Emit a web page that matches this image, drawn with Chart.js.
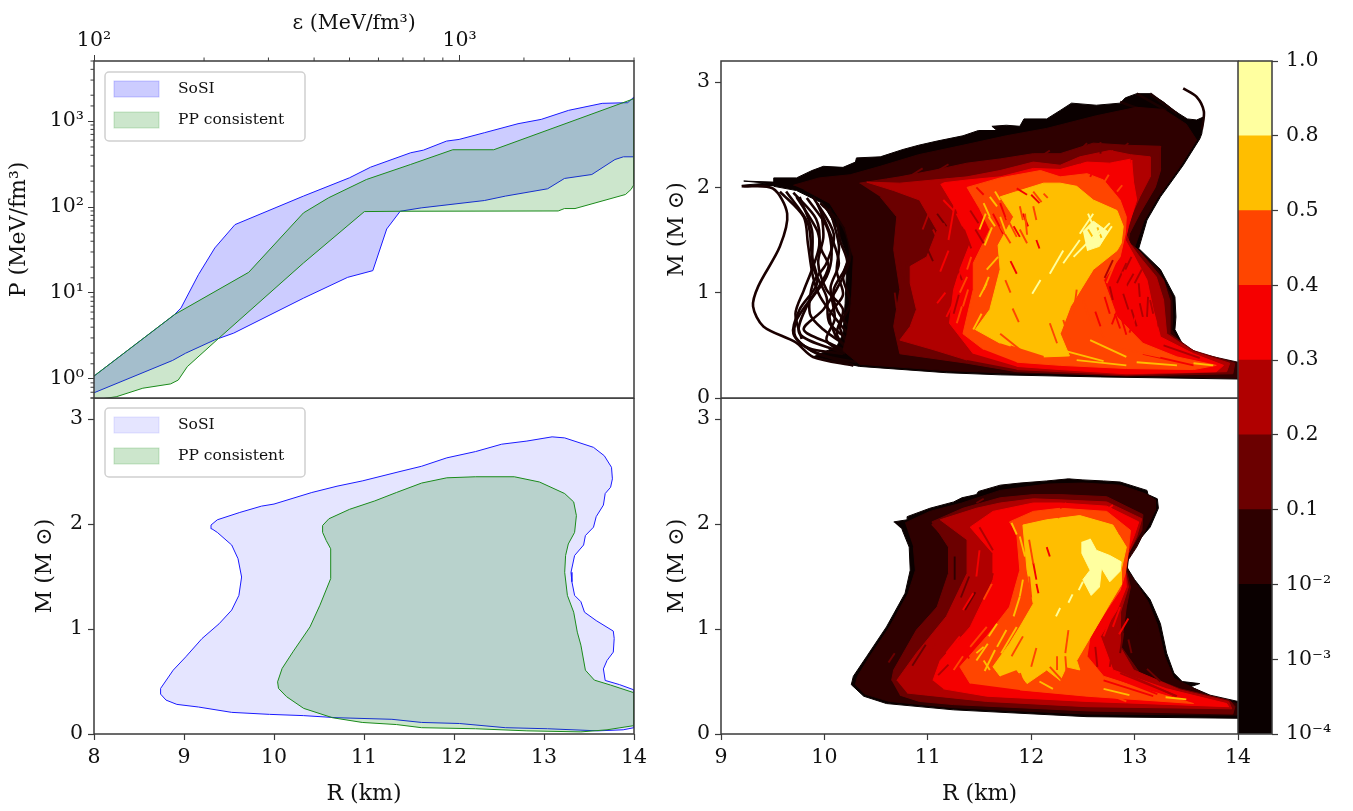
<!DOCTYPE html>
<html>
<head>
<meta charset="utf-8">
<title>EOS and M-R bands</title>
<script src="https://cdn.jsdelivr.net/npm/chart.js@4/dist/chart.umd.min.js"></script>
<style>
    html, body { margin: 0; padding: 0; background: #fff; }
    body { width: 1353px; height: 811px; position: relative; overflow: hidden; }
    .panel { position: absolute; }
</style>
</head>
<body>
<div class="panel" style="left:0;top:0;width:660px;height:420px"><canvas id="eosChart"></canvas></div>
<div class="panel" style="left:0;top:398px;width:660px;height:413px"><canvas id="bandChart"></canvas></div>
<div class="panel" style="left:650px;top:40px;width:620px;height:375px"><canvas id="heatTopChart"></canvas></div>
<div class="panel" style="left:650px;top:398px;width:620px;height:413px"><canvas id="heatBottomChart"></canvas></div>
<div class="panel" style="left:1238px;top:40px;width:115px;height:715px"><canvas id="colorbarChart"></canvas></div>
<script>
// ---- 左上：EOS 带 (epsilon, P)
const eosSosiUpper = [[100,1.08],[166,5.6],[173,6.7],[193,16.3],[214,33.4],[243,62.4],[374,134],[500,219],[571,291],[735,428],[796,459],[921,585],[997,612],[1169,732],[1445,932],[1673,1047],[1987,1333],[2455,1608],[2882,1637],[3000,1906]];
const eosSosiLower = [[3000,384],[2807,384],[2661,357],[2300,239],[1936,215],[1741,163],[1335,134],[1169,119],[785,97.7],[688,89.3],[632,55.6],[579,18.2],[494,15.2],[374,8.7],[241,3.41],[214,2.85],[178,1.99],[164,1.64],[100,0.69]];
const eosPpUpper = [[100,1.08],[166,5.6],[265,17.4],[374,85.4],[438,128],[556,209],[735,313],[958,464],[1240,464],[3000,1822]];
const eosPpLower = [[3000,183],[2944,160],[2844,140],[2069,96],[1936,96],[1861,90],[688,89.3],[549,88.5],[374,22.3],[217,2.85],[180,1.39],[170,0.97],[162,0.875],[136,0.78],[115,0.62],[100,0.57]];

// ---- 左下：M-R 带
const mrSosi = [[9.30,1.99],[9.37,2.04],[9.62,2.11],[9.86,2.17],[10.0,2.19],[10.42,2.30],[10.70,2.36],[10.98,2.41],[11.40,2.50],[11.64,2.55],[11.92,2.63],[12.24,2.69],[12.53,2.76],[12.81,2.79],[13.09,2.83],[13.23,2.82],[13.55,2.73],[13.67,2.65],[13.75,2.54],[13.76,2.43],[13.74,2.35],[13.68,2.29],[13.66,2.18],[13.58,2.07],[13.55,1.97],[13.46,1.89],[13.44,1.80],[13.34,1.70],[13.30,1.54],[13.31,1.45],[13.34,1.32],[13.41,1.26],[13.45,1.16],[13.58,1.08],[13.77,0.98],[13.78,0.91],[13.77,0.78],[13.70,0.70],[13.66,0.62],[13.68,0.51],[13.84,0.47],[14,0.42],[14,0.06],[13.88,0.04],[13.60,0.03],[13.04,0.05],[12.57,0.06],[12.06,0.10],[11.64,0.11],[11.31,0.14],[10.70,0.155],[10.33,0.175],[9.95,0.187],[9.53,0.206],[9.16,0.257],[8.92,0.282],[8.80,0.323],[8.74,0.38],[8.74,0.434],[8.88,0.608],[9.02,0.735],[9.20,0.909],[9.39,1.05],[9.53,1.18],[9.61,1.32],[9.64,1.495],[9.60,1.67],[9.53,1.80],[9.37,1.92],[9.31,1.954],[9.30,1.99]];
const mrPp = [[10.54,1.986],[10.61,2.05],[10.84,2.14],[11.12,2.22],[11.36,2.30],[11.64,2.39],[11.92,2.44],[12.24,2.45],[12.67,2.45],[12.95,2.40],[13.23,2.29],[13.33,2.21],[13.36,2.08],[13.34,1.92],[13.27,1.81],[13.24,1.70],[13.23,1.54],[13.26,1.32],[13.33,1.16],[13.37,0.97],[13.41,0.846],[13.46,0.608],[13.56,0.513],[13.74,0.466],[14,0.393],[14,0.08],[13.70,0.04],[13.41,0.02],[12.81,0.03],[12.24,0.05],[11.64,0.06],[11.36,0.09],[10.98,0.11],[10.65,0.155],[10.33,0.244],[10.14,0.355],[10.05,0.434],[10.04,0.497],[10.09,0.624],[10.21,0.782],[10.40,1.02],[10.51,1.226],[10.63,1.48],[10.63,1.764],[10.58,1.843],[10.54,1.92],[10.54,1.986]];

// ---- 右上：等值区 (外层到内层)
const topOuter = [[9.20,2.02],[9.44,2.04],[9.22,2.06],[9.51,2.05],[9.51,2.09],[9.73,2.09],[9.88,2.16],[9.99,2.20],[10.18,2.19],[10.30,2.24],[10.31,2.28],[10.54,2.29],[10.76,2.36],[10.91,2.40],[11.09,2.44],[11.34,2.49],[11.49,2.54],[11.67,2.54],[11.62,2.58],[11.76,2.59],[11.89,2.58],[11.93,2.65],[12.15,2.65],[12.28,2.73],[12.39,2.80],[12.63,2.78],[12.86,2.80],[12.91,2.85],[13.02,2.89],[13.15,2.89],[13.28,2.81],[13.38,2.73],[13.51,2.65],[13.60,2.64],[13.67,2.67],[13.65,2.51],[13.63,2.46],[13.47,2.21],[13.25,1.91],[13.12,1.69],[13.04,1.42],[13.25,1.22],[13.39,0.96],[13.40,0.77],[13.39,0.65],[13.47,0.50],[13.63,0.41],[14,0.33],[14,0.18],[12.67,0.20],[11.70,0.22],[11.18,0.24],[10.34,0.30],[9.89,0.39],[10.12,0.49],[10.18,0.61],[10.20,0.90],[10.22,1.34],[10.12,1.62],[9.98,1.85],[9.73,1.97],[9.51,2.01]];
const topLevel1 = [[9.70,2.02],[9.95,2.09],[10.25,2.12],[10.54,2.20],[10.91,2.31],[11.34,2.40],[11.76,2.49],[12.15,2.56],[12.63,2.68],[13.02,2.76],[13.28,2.74],[13.50,2.60],[13.60,2.45],[13.44,2.20],[13.22,1.90],[13.09,1.68],[13.00,1.43],[13.23,1.22],[13.36,0.96],[13.37,0.77],[13.36,0.65],[13.45,0.51],[13.63,0.42],[14,0.34],[14,0.19],[12.67,0.22],[11.70,0.24],[11.18,0.26],[10.34,0.32],[10.18,0.45],[10.22,0.61],[10.26,0.90],[10.28,1.34],[10.20,1.62],[10.05,1.85],[9.80,1.98]];
const topLevel2 = [[10.34,2.04],[10.60,2.08],[10.73,2.10],[11.05,2.16],[11.38,2.23],[11.70,2.27],[12.02,2.32],[12.28,2.32],[12.60,2.42],[12.92,2.40],[13.25,2.39],[13.25,2.16],[13.20,2.00],[13.05,1.75],[12.95,1.56],[12.94,1.48],[13.04,1.40],[13.10,1.33],[13.28,1.12],[13.34,0.93],[13.34,0.61],[13.57,0.45],[13.97,0.33],[13.95,0.23],[12.92,0.21],[11.86,0.25],[11.38,0.33],[10.73,0.42],[10.70,0.55],[10.67,0.68],[10.73,1.03],[10.67,1.41],[10.70,1.72],[10.54,1.91]];
const topLevel3 = [[11.38,0.36],[11.05,0.46],[10.73,0.55],[10.83,0.68],[10.89,0.84],[10.83,1.09],[10.83,1.25],[10.99,1.34],[11.09,1.59],[10.92,1.88],[10.67,1.97],[10.41,2.05],[10.73,2.04],[11.38,2.10],[11.70,2.16],[12.02,2.24],[12.28,2.21],[12.47,2.29],[12.76,2.35],[12.96,2.31],[13.15,2.29],[13.15,2.10],[13.05,1.91],[12.95,1.69],[12.92,1.55],[12.96,1.46],[13.05,1.34],[13.21,1.15],[13.28,0.93],[13.31,0.61],[13.57,0.44],[13.92,0.33],[13.89,0.25],[12.92,0.22],[11.86,0.27]];
const topLevel4 = [[11.44,0.42],[11.21,0.71],[11.25,1.03],[11.31,1.22],[11.41,1.47],[11.28,1.78],[11.12,2.04],[11.38,2.07],[11.70,2.10],[12.02,2.18],[12.28,2.17],[12.54,2.24],[12.76,2.23],[12.97,2.27],[12.99,2.05],[13.02,1.88],[12.94,1.63],[12.91,1.50],[12.99,1.36],[13.12,1.12],[13.18,0.84],[13.25,0.58],[13.57,0.42],[13.86,0.31],[13.79,0.25],[12.92,0.23],[12.28,0.27],[11.86,0.30]];
const topLevel5 = [[11.54,0.46],[11.34,0.61],[11.44,1.03],[11.44,1.28],[11.60,1.60],[11.50,1.80],[11.38,2.00],[11.70,2.09],[12.09,2.16],[12.28,2.10],[12.54,2.13],[12.70,2.07],[12.86,1.88],[12.92,1.72],[12.91,1.56],[12.86,1.34],[12.70,1.12],[12.83,0.77],[13.08,0.52],[13.41,0.39],[13.79,0.31],[13.57,0.27],[12.92,0.28],[12.28,0.31],[11.86,0.34]];
const topLevel6 = [[11.70,0.52],[11.46,0.65],[11.60,0.84],[11.70,1.22],[11.68,1.45],[11.83,1.72],[11.70,1.91],[11.86,1.96],[12.12,2.04],[12.28,2.04],[12.44,2.01],[12.60,1.88],[12.83,1.78],[12.89,1.63],[12.87,1.47],[12.83,1.40],[12.60,1.22],[12.38,0.87],[12.28,0.61],[12.37,0.40],[12.12,0.39]];
const topLevel7 = [[12.50,1.58],[12.60,1.68],[12.74,1.58],[12.66,1.44],[12.54,1.40]];
const topStrands = [
    [[9.20,2.01],[9.50,1.99],[9.64,1.75],[9.57,1.44],[9.36,1.06],[9.31,0.87],[9.41,0.68],[9.72,0.53],[9.89,0.39],[10.28,0.31]],
    [[9.57,1.96],[9.80,1.72],[9.84,1.47],[9.89,1.15],[9.96,0.96],[10.12,0.74],[10.28,0.55]],
    [[9.63,1.96],[9.84,1.66],[9.88,1.34],[9.93,1.09],[9.76,0.84],[9.70,0.61],[9.86,0.46],[10.28,0.31]],
    [[9.73,1.91],[9.93,1.59],[9.97,1.41],[10.04,1.25],[9.93,1.03],[9.73,0.74],[9.72,0.58],[9.93,0.42],[10.31,0.34]],
    [[9.83,1.90],[10.02,1.63],[10.07,1.37],[10.02,1.15],[9.83,0.87],[9.76,0.61],[10.15,0.44]],
    [[9.89,1.91],[10.09,1.56],[10.02,1.28],[9.89,1.09],[9.86,0.80],[9.99,0.65],[10.22,0.49]],
    [[9.96,1.85],[10.18,1.63],[10.25,1.34],[10.15,1.09],[9.99,0.84],[9.80,0.65],[10.05,0.52],[10.34,0.39]],
    [[9.97,1.78],[9.99,1.53],[9.94,1.28],[10.02,1.03],[10.18,0.84],[10.12,0.61],[10.22,0.46]],
    [[9.76,1.91],[9.88,1.59],[9.89,1.25],[10.02,0.96],[10.05,0.71],[10.28,0.52]],
    [[10.12,1.72],[10.15,1.50],[10.22,1.28],[10.09,1.03],[10.12,0.84],[10.25,0.65],[10.31,0.52]],
    [[10.22,1.69],[10.26,1.41],[10.18,1.15],[10.25,0.90],[10.15,0.68],[10.22,0.52]],
    [[10.05,1.80],[10.14,1.45],[10.12,1.20],[10.18,0.98],[10.05,0.78],[10.12,0.56]],
    [[9.93,1.85],[10.06,1.55],[10.14,1.28],[10.06,1.05],[10.10,0.75],[10.02,0.55],[10.20,0.42]],
    [[9.70,1.95],[9.92,1.70],[9.95,1.45],[9.88,1.22],[9.80,1.02],[9.72,0.80],[9.78,0.56]],
    [[9.75,0.52],[9.89,0.46],[10.18,0.42]],
    [[13.47,2.94],[13.60,2.86],[13.67,2.72],[13.65,2.55]],
    [[12.86,2.81],[13.09,2.73]],
    [[13.02,2.89],[13.31,2.73]],
    [[13.15,2.89],[13.41,2.70]]
];

// 右上细条纹：每段两点，按等值层分组
const topStreaks2 = [[[10.72,1.35],[10.76,1.10]],[[10.68,1.0],[10.70,0.85]],[[10.91,1.72],[10.97,1.63]],[[11.09,1.75],[11.18,1.63]],[[10.98,1.45],[11.05,1.30]],[[10.80,1.30],[10.78,1.10]],[[11.28,2.12],[11.38,2.18]],[[11.50,2.17],[11.60,2.23]],[[11.76,2.23],[11.86,2.28]],[[12.09,2.29],[12.18,2.35]],[[12.67,2.32],[12.67,2.43]],[[12.86,2.35],[12.94,2.42]],[[13.13,2.32],[13.15,2.37]],[[13.23,2.32],[13.25,2.39]],[[13.21,2.10],[13.25,2.18]],[[12.47,2.35],[12.54,2.42]],[[10.85,2.12],[10.95,2.18]],[[11.10,2.16],[11.20,2.22]]];
const topStreaks3 = [[[12.47,2.23],[12.54,2.29]],[[12.76,2.29],[12.79,2.35]],[[12.97,2.23],[12.97,2.31]],[[11.10,2.03],[11.20,2.08]],[[11.05,1.60],[11.15,1.40]],[[11.10,1.10],[11.18,0.92]],[[11.25,0.80],[11.30,0.98]],[[12.83,1.09],[12.92,1.28]],[[12.92,1.06],[12.99,1.18]],[[13.05,0.96],[13.04,1.09]],[[13.08,0.77],[13.05,0.90]],[[13.18,0.80],[13.15,0.93]],[[12.94,0.84],[12.89,0.99]],[[12.79,0.93],[12.76,1.06]],[[10.90,0.80],[10.95,1.05]],[[10.95,1.60],[11.02,1.78]],[[11.35,1.60],[11.42,1.42]],[[11.26,1.30],[11.33,1.12]],[[11.41,1.78],[11.49,1.66]],[[11.46,1.60],[11.54,1.47]],[[11.15,1.66],[11.21,1.53]],[[12.71,1.14],[12.79,1.31]],[[12.91,1.22],[12.97,1.34]],[[13.00,1.09],[13.07,1.22]],[[13.12,0.77],[13.13,0.96]],[[13.23,0.68],[13.23,0.87]],[[13.02,0.68],[12.97,0.84]],[[13.28,0.50],[13.63,0.38]]];
const topStreaks4 = [[[12.00,1.93],[12.08,1.85]],[[11.92,1.75],[11.97,1.63]],[[11.83,1.63],[11.89,1.53]],[[11.86,1.99],[11.96,1.93]],[[11.70,1.85],[11.76,1.69]],[[11.63,1.75],[11.73,1.56]],[[11.09,0.90],[11.17,1.0]],[[11.18,0.77],[11.26,0.93]],[[11.12,1.20],[11.20,1.40]],[[11.20,1.50],[11.28,1.95]],[[12.57,2.10],[12.60,2.16]],[[12.76,2.13],[12.81,2.24]],[[12.96,2.07],[12.97,2.26]],[[11.28,1.10],[11.36,1.32]],[[12.88,1.20],[12.92,1.05]],[[12.78,0.70],[12.86,0.90]],[[12.95,0.62],[13.02,0.80]],[[12.05,1.50],[12.08,1.42]],[[11.80,1.30],[11.86,1.18]],[[11.15,1.88],[11.25,1.78]],[[11.28,1.75],[11.34,1.63]],[[11.38,1.91],[11.47,1.75]],[[11.21,2.00],[11.33,1.93]],[[11.47,2.00],[11.54,1.93]],[[12.76,0.80],[12.71,0.96]],[[12.86,0.66],[12.81,0.80]],[[12.92,0.60],[12.87,0.77]],[[12.67,0.68],[12.62,0.82]],[[13.08,0.42],[13.57,0.31]]];
const topStreaks5 = [[[12.02,1.96],[12.10,1.86]],[[12.12,1.94],[12.16,1.90]],[[11.89,1.82],[11.92,1.69]],[[11.76,1.72],[11.86,1.53]],[[11.94,1.75],[11.96,1.55]],[[11.70,1.63],[11.80,1.47]],[[11.46,1.22],[11.50,1.31]],[[11.34,0.87],[11.39,1.03]],[[11.38,0.71],[11.42,0.87]],[[12.73,1.09],[12.81,1.28]],[[12.44,1.03],[12.41,0.80]],[[12.50,0.93],[12.57,0.74]],[[12.60,0.77],[12.70,0.58]],[[12.18,0.71],[12.25,0.52]],[[12.31,0.74],[12.37,0.55]],[[11.70,0.61],[11.89,0.46]],[[11.80,0.49],[12.12,0.39]],[[12.70,2.04],[12.75,2.12]],[[12.83,1.96],[12.88,2.02]],[[11.75,1.12],[11.80,1.00]],[[11.82,0.85],[11.88,0.72]],[[11.38,1.22],[11.42,1.34]],[[11.31,1.00],[11.38,1.15]],[[11.28,0.71],[11.33,0.87]],[[12.02,1.82],[12.05,1.69]],[[11.89,1.60],[11.96,1.47]],[[12.76,0.49],[13.25,0.39]]];
const topStreaks6 = [[[11.60,1.91],[11.67,1.82]],[[11.59,1.72],[11.65,1.63]],[[11.70,1.72],[11.76,1.56]],[[11.80,1.82],[11.84,1.72]],[[11.54,1.03],[11.59,1.15]],[[11.44,0.65],[11.52,0.80]],[[11.57,1.22],[11.68,1.34]],[[11.50,0.96],[11.57,1.09]],[[12.57,0.55],[12.92,0.39]],[[12.28,0.46],[12.70,0.35]],[[12.44,0.36],[12.92,0.31]],[[13.02,0.34],[13.41,0.31]],[[13.57,0.33],[13.76,0.31]],[[12.55,1.60],[12.60,1.52]],[[12.64,1.62],[12.68,1.52]],[[11.55,1.45],[11.62,1.62]],[[11.50,1.60],[11.56,1.75]],[[11.54,1.85],[11.60,1.72]],[[11.65,1.96],[11.70,1.88]]];
const topStreaks7 = [[[12.55,1.75],[12.60,1.63]],[[12.18,1.18],[12.31,1.40]],[[12.01,0.99],[12.09,1.12]],[[12.31,1.28],[12.47,1.50]],[[12.41,1.34],[12.67,1.60]],[[12.67,1.47],[12.78,1.63]],[[12.47,1.56],[12.60,1.75]],[[12.57,1.47],[12.76,1.66]]];

// ---- 右下：等值区
const bottomOuter = [[10.67,2.02],[10.80,2.04],[10.80,2.07],[11.02,2.15],[11.25,2.21],[11.33,2.25],[11.47,2.28],[11.49,2.31],[11.70,2.37],[11.89,2.39],[12.15,2.41],[12.36,2.43],[12.50,2.42],[12.70,2.41],[12.86,2.40],[13.12,2.32],[13.13,2.28],[13.22,2.24],[13.23,2.15],[13.15,1.97],[13.02,1.82],[12.94,1.67],[12.93,1.58],[13.00,1.47],[13.15,1.28],[13.25,1.05],[13.31,0.77],[13.38,0.58],[13.46,0.50],[13.63,0.48],[13.54,0.45],[13.73,0.37],[14,0.31],[14,0.15],[12.54,0.165],[11.25,0.23],[10.60,0.29],[10.38,0.36],[10.26,0.47],[10.28,0.55],[10.41,0.74],[10.60,1.02],[10.78,1.34],[10.83,1.56],[10.82,1.78],[10.75,1.95]];
const bottomLevel1 = [[10.78,2.01],[11.02,2.12],[11.33,2.20],[11.70,2.32],[12.15,2.38],[12.50,2.39],[12.86,2.37],[13.10,2.29],[13.20,2.23],[13.20,2.13],[13.02,1.78],[12.92,1.63],[12.94,1.55],[13.13,1.26],[13.22,1.04],[13.29,0.74],[13.38,0.53],[13.73,0.36],[13.99,0.29],[13.99,0.18],[12.54,0.19],[11.25,0.25],[10.63,0.31],[10.39,0.38],[10.30,0.47],[10.32,0.55],[10.44,0.74],[10.63,1.02],[10.81,1.34],[10.88,1.56],[10.86,1.78]];
const bottomLevel2 = [[10.65,0.51],[10.67,0.61],[10.89,0.99],[11.09,1.21],[11.20,1.53],[11.20,1.78],[11.04,2.02],[11.34,2.15],[11.70,2.25],[12.02,2.28],[12.28,2.28],[12.73,2.26],[13.08,2.09],[13.07,1.94],[12.94,1.72],[12.92,1.56],[12.96,1.40],[12.92,1.21],[12.87,0.83],[13.05,0.58],[13.44,0.43],[13.92,0.32],[13.97,0.26],[13.95,0.19],[12.54,0.22],[11.25,0.28],[10.92,0.31],[10.73,0.37]];
const bottomLevel3 = [[10.70,0.51],[10.89,0.77],[11.18,1.12],[11.38,1.53],[11.38,1.85],[11.12,2.04],[11.47,2.15],[11.70,2.20],[12.02,2.24],[12.28,2.23],[12.73,2.21],[13.07,2.05],[13.02,1.88],[12.94,1.72],[12.91,1.56],[12.94,1.40],[12.86,1.15],[12.86,0.83],[12.99,0.61],[13.44,0.42],[13.91,0.31],[13.94,0.24],[12.54,0.26],[11.57,0.31],[10.99,0.37],[10.80,0.39]];
const bottomLevel4 = [[11.05,0.51],[11.12,0.70],[11.41,1.02],[11.63,1.47],[11.63,1.72],[11.41,1.97],[11.63,2.12],[12.02,2.20],[12.28,2.20],[12.73,2.17],[13.04,2.02],[13.00,1.90],[12.94,1.75],[12.91,1.56],[12.92,1.40],[12.83,1.18],[12.67,0.93],[12.79,0.61],[13.31,0.43],[13.89,0.29],[13.91,0.26],[12.54,0.31],[11.57,0.36],[11.15,0.43]];
const bottomLevel5 = [[11.41,0.48],[11.31,0.64],[11.57,0.93],[11.79,1.21],[11.89,1.56],[11.86,1.91],[11.79,2.02],[12.02,2.12],[12.28,2.15],[12.73,2.12],[12.96,1.94],[12.94,1.75],[12.91,1.53],[12.86,1.37],[12.73,1.18],[12.57,0.93],[12.54,0.74],[12.70,0.55],[13.18,0.40],[13.57,0.29],[12.54,0.36],[11.89,0.42]];
const bottomLevel6 = [[11.70,0.55],[11.63,0.64],[11.79,0.86],[11.89,1.02],[12.02,1.24],[11.96,1.56],[11.92,1.99],[12.15,2.04],[12.47,2.08],[12.79,1.99],[12.92,1.78],[12.87,1.56],[12.87,1.42],[12.76,1.24],[12.63,1.02],[12.44,0.70],[12.47,0.61],[12.34,0.64],[12.28,0.51],[12.15,0.61],[11.96,0.48],[11.86,0.61]];
const bottomLevel7 = [[12.57,1.86],[12.63,1.75],[12.76,1.70],[12.87,1.64],[12.86,1.55],[12.76,1.45],[12.68,1.58],[12.66,1.40],[12.58,1.32],[12.50,1.47],[12.57,1.56],[12.49,1.72],[12.49,1.83]];

const bottomStreaks1 = [[[11.26,1.69],[11.26,1.47]],[[13.05,1.12],[13.03,0.95]]];
const bottomStreaks2 = [[[11.04,2.00],[11.17,1.86]],[[10.92,1.00],[10.86,0.92]],[[10.68,0.77],[10.62,0.68]],[[11.15,1.13],[10.97,0.93]],[[12.94,0.90],[12.97,0.77]],[[13.12,0.62],[13.25,0.50]],[[10.85,0.65],[10.98,0.85]],[[11.40,1.50],[11.32,1.30]],[[11.46,1.35],[11.36,1.18]],[[11.47,2.20],[11.54,2.24]],[[10.88,0.93],[10.94,1.02]],[[12.86,0.77],[12.89,0.96]]];
const bottomStreaks3 = [[[11.50,1.97],[11.63,1.75]],[[11.08,0.86],[11.02,0.77]],[[11.63,1.53],[11.60,1.43]],[[12.62,0.83],[12.64,0.64]],[[12.86,0.60],[13.40,0.36]],[[11.20,0.66],[11.10,0.56]],[[11.50,1.25],[11.40,1.08]],[[12.80,0.95],[12.76,0.75]],[[11.57,1.37],[11.62,1.50]],[[12.76,0.64],[12.79,0.83]],[[12.86,0.58],[13.41,0.36]]];
const bottomStreaks4 = [[[12.02,1.63],[12.05,1.47]],[[12.15,1.78],[12.18,1.69]],[[12.05,1.43],[12.07,1.34]],[[11.65,1.30],[11.72,1.55]],[[11.28,0.90],[11.40,0.72]],[[11.50,1.00],[11.38,0.86]],[[12.78,0.55],[13.22,0.38]],[[12.94,1.10],[12.85,0.95]],[[11.18,0.77],[11.31,0.93]],[[11.47,1.50],[11.50,1.75]],[[11.34,1.18],[11.44,1.34]],[[12.79,1.02],[12.86,1.21]],[[12.70,0.93],[12.76,1.08]],[[12.28,2.15],[12.34,2.20]],[[12.73,2.13],[12.79,2.18]],[[12.70,0.51],[13.18,0.36]]];
const bottomStreaks5 = [[[11.92,0.93],[11.81,0.74]],[[12.36,0.99],[12.33,0.77]],[[12.05,0.82],[12.00,0.64]],[[12.25,0.74],[12.25,0.61]],[[12.33,0.74],[12.34,0.61]],[[12.18,0.64],[12.31,0.50]],[[11.89,0.58],[11.92,0.50]],[[11.98,1.50],[12.00,1.30]],[[11.98,1.85],[12.02,1.62]],[[12.80,2.02],[12.86,1.90]],[[12.20,2.12],[12.27,2.06]],[[11.41,0.83],[11.57,1.02]],[[11.25,0.61],[11.34,0.74]],[[11.54,1.28],[11.62,1.43]],[[12.79,0.36],[12.92,0.31]]];
const bottomStreaks6 = [[[11.58,0.86],[11.47,0.70]],[[11.67,1.05],[11.59,0.93]],[[11.76,0.99],[11.67,0.83]],[[11.86,1.02],[11.71,0.77]],[[11.89,1.31],[11.83,1.12]],[[11.81,2.01],[11.86,1.90]],[[12.08,0.50],[12.21,0.43]],[[11.55,0.60],[11.65,0.80]],[[12.70,0.43],[12.95,0.37]],[[13.30,0.35],[13.50,0.33]],[[11.60,0.61],[11.54,0.70]],[[11.47,0.77],[11.54,0.83]],[[11.89,1.88],[11.94,1.69]],[[11.92,1.47],[11.89,1.31]]];
const bottomStreaks7 = [[[12.46,1.37],[12.50,1.45]],[[12.24,1.12],[12.28,1.20]],[[12.36,1.25],[12.40,1.33]]];

// ---- 色标
const levelColors = ['#0a0000', '#2e0000', '#6b0000', '#b00000', '#f50000', '#ff4500', '#ffbe00', '#ffff9f'];
const colorbarColors = ['#0a0000', '#0a0000', '#2e0000', '#6b0000', '#b00000', '#f50000', '#ff4500', '#ffbe00', '#ffff9f'];
const colorbarTicks = ['10⁻⁴', '10⁻³', '10⁻²', '0.1', '0.2', '0.3', '0.4', '0.5', '0.8', '1.0'];

const legendNames = ['SoSI', 'PP consistent'];
const fontName = '"DejaVu Serif", serif';
const spineColor = '#3a3a3a';
const tickSize = 20.5;

// 四边框 + 次刻度
const framePlugin = {
    id: 'frame',
    afterDraw(chart) {
        const { ctx, chartArea: a } = chart;
        ctx.save();
        ctx.strokeStyle = spineColor;
        ctx.lineWidth = 1.5;
        ctx.strokeRect(a.left, a.top, a.right - a.left, a.bottom - a.top);
        // 对数轴的次刻度
        Object.values(chart.scales).forEach(scale => {
            if (scale.type !== 'logarithmic') return;
            scale.ticks.forEach(t => {
                if (isPower(t.value)) return;
                const p = scale.getPixelForValue(t.value);
                ctx.lineWidth = 1;
                ctx.beginPath();
                if (scale.isHorizontal()) {
                    ctx.moveTo(p, a.top);
                    ctx.lineTo(p, a.top - 3.5);
                } else {
                    ctx.moveTo(a.left, p);
                    ctx.lineTo(a.left - 3.5, p);
                }
                ctx.stroke();
            });
        });
        ctx.restore();
    },
};

// 图例框
const bandLegendPlugin = {
    id: 'bandLegend',
    afterDraw(chart, args, opts) {
        if (!opts.fills) return;
        const { ctx } = chart;
        const { x, y } = opts;
        ctx.save();
        ctx.fillStyle = 'rgba(255,255,255,0.85)';
        ctx.strokeStyle = '#d0d0d0';
        ctx.lineWidth = 1.5;
        ctx.beginPath();
        ctx.roundRect(x, y, 200, 69, 4);
        ctx.fill();
        ctx.stroke();
        legendNames.forEach((name, i) => {
            const rowY = y + 9 + i * 31;
            ctx.fillStyle = opts.fills[i];
            ctx.strokeStyle = opts.edges[i];
            ctx.lineWidth = 1;
            ctx.fillRect(x + 9, rowY, 45, 16);
            ctx.strokeRect(x + 9, rowY, 45, 16);
            ctx.fillStyle = '#111';
            ctx.font = '15.5px ' + fontName;
            ctx.textBaseline = 'middle';
            ctx.fillText(name, x + 73, rowY + 8);
        });
        ctx.restore();
    },
};

function isPower(v) {
    const l = Math.log10(v);
    return Math.abs(l - Math.round(l)) < 1e-9;
}

function band(points, fill, edge, order) {
    return {
        data: points,
        showLine: true,
        fill: 'shape',
        backgroundColor: fill,
        borderColor: edge,
        borderWidth: 1,
        pointRadius: 0,
        order,
    };
}

function linearAxis(position, min, max, title, extra) {
    return Object.assign({
        type: 'linear',
        position,
        min,
        max,
        afterFit: extra.fit,
        grid: { drawOnChartArea: false, tickLength: 6, tickColor: spineColor, tickWidth: 1.2 },
        border: { display: false },
        ticks: {
            stepSize: 1,
            includeBounds: false,
            color: '#111',
            padding: 5,
            maxRotation: 0,
            font: { family: fontName, size: tickSize },
        },
        title: {
            display: !!title,
            text: title,
            color: '#111',
            padding: extra.titlePadding || 0,
            font: { family: fontName, size: 22 },
        },
    }, extra.more || {});
}

function makeChart(id, datasets, scales, legend, padding) {
    return new Chart(document.getElementById(id), {
        type: 'scatter',
        data: { datasets },
        options: {
            responsive: false,
            animation: false,
            events: [],
            layout: { autoPadding: false, padding },
            scales,
            plugins: { legend: { display: false }, tooltip: { enabled: false }, bandLegend: legend || {} },
        },
        plugins: [framePlugin, bandLegendPlugin],
    });
}

function sizeCanvas(id) {
    const c = document.getElementById(id);
    c.width = c.parentElement.clientWidth;
    c.height = c.parentElement.clientHeight;
}
['eosChart', 'bandChart', 'heatTopChart', 'heatBottomChart', 'colorbarChart'].forEach(sizeCanvas);

// 固定轴的尺寸，去掉标签溢出带来的内边距
const noMargin = s => { s.paddingLeft = s.paddingRight = s.paddingTop = s.paddingBottom = 0; };
const fixW = w => s => { s.width = w; noMargin(s); };
const fixH = h => s => { s.height = h; noMargin(s); };

// 左上
makeChart('eosChart', [
    band(eosSosiUpper.concat(eosSosiLower), 'rgba(0,0,255,0.2)', '#1a1aff', 2),
    band(eosPpUpper.concat(eosPpLower), 'rgba(0,128,0,0.2)', '#1a8a1a', 1),
], {
    x: {
        type: 'logarithmic',
        position: 'top',
        min: 100,
        max: 3000,
        afterFit: fixH(61),
        grid: { drawOnChartArea: false, tickLength: 6, tickColor: c => isPower(c.tick.value) ? spineColor : 'transparent' },
        border: { display: false },
        ticks: {
            autoSkip: false,
            maxRotation: 0,
            color: '#111',
            padding: 2,
            font: { family: fontName, size: tickSize },
            callback: v => v === 100 ? '10²' : (v === 1000 ? '10³' : ''),
        },
        title: { display: true, text: 'ε (MeV/fm³)   ', color: '#111', padding: { top: 11 }, font: { family: fontName, size: 20.5 } },
    },
    y: {
        type: 'logarithmic',
        position: 'left',
        min: 0.6,
        max: 5000,
        afterFit: fixW(94),
        grid: { drawOnChartArea: false, tickLength: 6, tickColor: c => isPower(c.tick.value) ? spineColor : 'transparent' },
        border: { display: false },
        ticks: {
            autoSkip: false,
            color: '#111',
            padding: 4,
            font: { family: fontName, size: tickSize },
            callback: v => isPower(v) ? '10' + '⁰¹²³'[Math.round(Math.log10(v))] : '',
        },
        title: { display: true, text: 'P (MeV/fm³)', color: '#111', padding: 6, font: { family: fontName, size: 22 } },
    },
}, { x: 105, y: 72, fills: ['rgba(0,0,255,0.2)', 'rgba(0,128,0,0.2)'], edges: ['rgba(0,0,255,0.2)', 'rgba(0,128,0,0.2)'] },
{ left: 0, top: 0, right: 26, bottom: 22 });

// 左下
makeChart('bandChart', [
    band(mrSosi, 'rgba(0,0,255,0.1)', '#1a1aff', 2),
    band(mrPp, 'rgba(0,128,0,0.2)', '#1a8a1a', 1),
], {
    x: linearAxis('bottom', 8, 14, 'R (km)', { fit: fixH(77), titlePadding: { bottom: 4 } }),
    y: linearAxis('left', 0, 3.2, 'M (M ⊙)', { fit: fixW(94), titlePadding: { top: 32 } }),
}, { x: 105, y: 10, fills: ['rgba(0,0,255,0.1)', 'rgba(0,128,0,0.2)'], edges: ['rgba(0,0,255,0.1)', 'rgba(0,128,0,0.2)'] },
{ left: 0, top: 0, right: 26, bottom: 0 });

function heatDatasets(layers) {
    return layers.map((pts, i) => band(pts, levelColors[i], levelColors[i], 100 - i));
}

// 细条纹盖在对应等值层上面
function streakDatasets(groups) {
    const sets = [];
    Object.keys(groups).forEach(level => {
        groups[level].forEach(seg => {
            sets.push({
                data: seg, showLine: true, borderColor: levelColors[level],
                borderWidth: 1.9, pointRadius: 0, order: 50 - Number(level),
            });
        });
    });
    return sets;
}

const strandSets = topStrands.map(pts => ({
    data: pts, showLine: true, tension: 0.3, borderColor: '#1a0000', borderWidth: 2.6, pointRadius: 0, order: 99,
}));

// 右上
makeChart('heatTopChart', heatDatasets([topOuter, topLevel1, topLevel2, topLevel3, topLevel4, topLevel5, topLevel6, topLevel7])
    .concat(strandSets)
    .concat(streakDatasets({ 2: topStreaks2, 3: topStreaks3, 4: topStreaks4, 5: topStreaks5, 6: topStreaks6, 7: topStreaks7 })), {
    x: linearAxis('bottom', 9, 14, '', { fit: fixH(17), more: { display: false } }),
    y: linearAxis('left', 0, 3.2, 'M (M ⊙)', { fit: fixW(71), titlePadding: { top: 14 } }),
}, null, { left: 0, top: 21, right: 32, bottom: 0 });

// 右下
makeChart('heatBottomChart', heatDatasets([bottomOuter, bottomLevel1, bottomLevel2, bottomLevel3, bottomLevel4, bottomLevel5, bottomLevel6, bottomLevel7])
    .concat(streakDatasets({ 1: bottomStreaks1, 2: bottomStreaks2, 3: bottomStreaks3, 4: bottomStreaks4, 5: bottomStreaks5, 6: bottomStreaks6, 7: bottomStreaks7 })), {
    x: linearAxis('bottom', 9, 14, 'R (km)', { fit: fixH(77), titlePadding: { bottom: 4 } }),
    y: linearAxis('left', 0, 3.2, 'M (M ⊙)', { fit: fixW(71), titlePadding: { top: 14 } }),
}, null, { left: 0, top: 0, right: 32, bottom: 0 });

// 色标
new Chart(document.getElementById('colorbarChart'), {
    type: 'bar',
    data: {
        labels: [''],
        datasets: colorbarColors.map(c => ({ data: [1], backgroundColor: c, barPercentage: 1, categoryPercentage: 1 })),
    },
    options: {
        responsive: false,
        animation: false,
        events: [],
        layout: { autoPadding: false, padding: { left: 0, top: 21, right: 0, bottom: 21 } },
        scales: {
            x: { stacked: true, display: false },
            y: {
                stacked: true,
                position: 'right',
                min: 0,
                max: 9,
                afterFit: fixW(81),
                grid: { drawOnChartArea: false, tickLength: 6, tickColor: spineColor, tickWidth: 1.2 },
                border: { display: false },
                ticks: {
                    stepSize: 1,
                    color: '#111',
                    padding: 8,
                    font: { family: fontName, size: tickSize },
                    callback: v => colorbarTicks[v],
                },
            },
        },
        plugins: { legend: { display: false }, tooltip: { enabled: false } },
    },
    plugins: [framePlugin],
});
</script>
</body>
</html>
